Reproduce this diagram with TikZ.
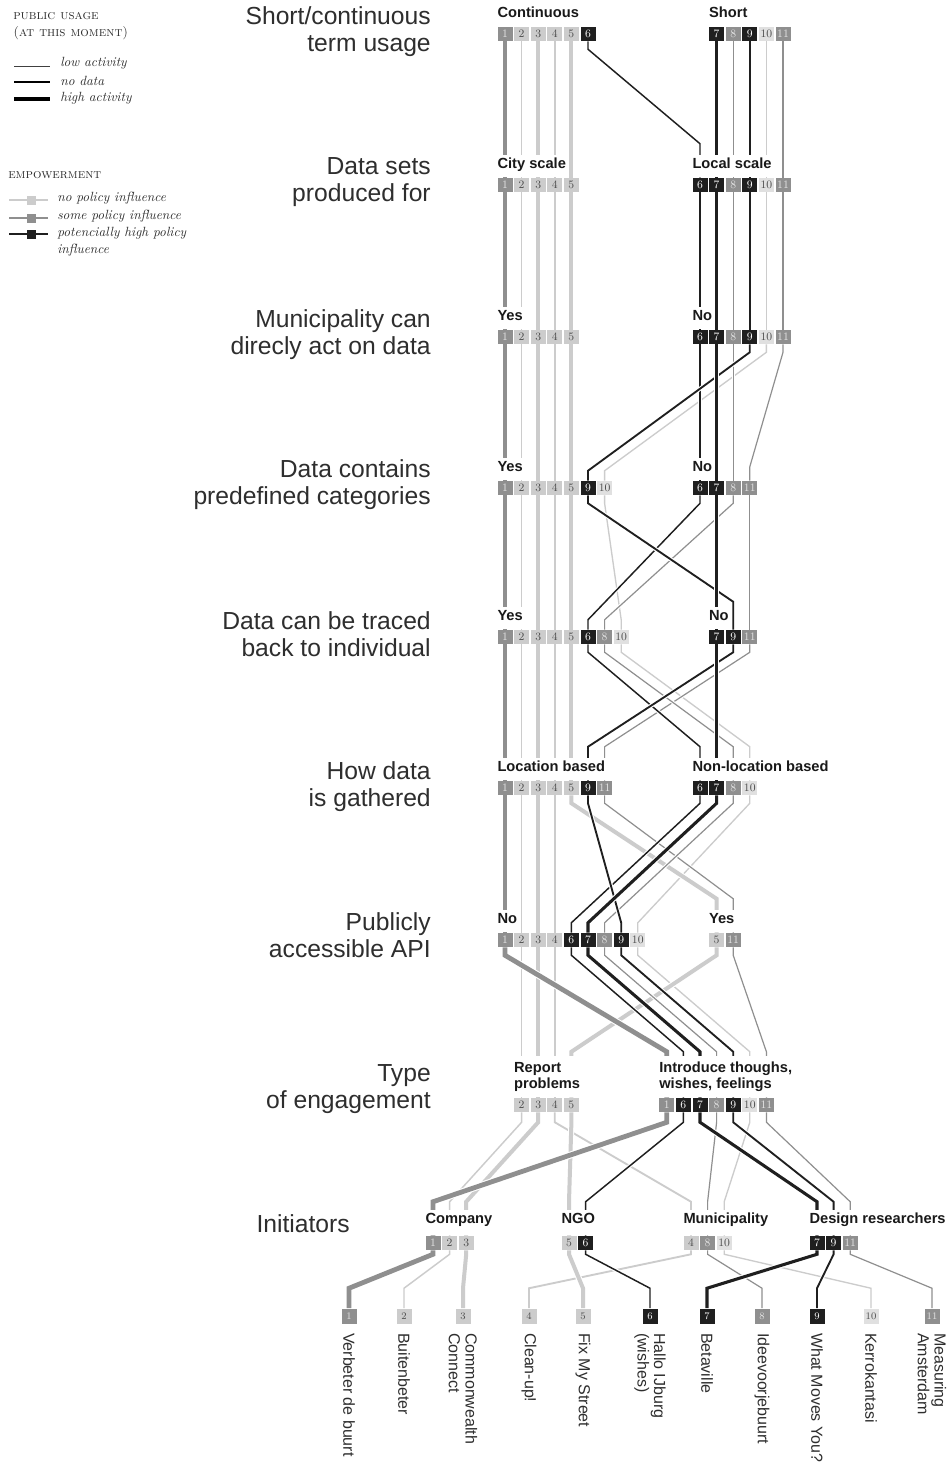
\documentclass[tikz,border=0pt]{standalone}
\usepackage{fontspec}
\usepackage{xcolor}
\usepackage{tikz}
\usetikzlibrary{calc}
\newfontfamily\sans{Liberation Sans}

\definecolor{emplow}{gray}{0.80}
\definecolor{emplight}{gray}{0.88}
\definecolor{empmid}{gray}{0.56}
\definecolor{emphigh}{gray}{0.12}
\definecolor{ink}{gray}{0.18}

\pgfdeclarelayer{paper}
\pgfdeclarelayer{wires}
\pgfsetlayers{paper,wires,main}

% one usage line per project, from a box in row #1 to the same project in row #2
\newcommand\links[4]{%
  \foreach \i/\s in {#4}
    \draw[u\i] (r#1-\i.south) -- ++(0,#3) -- ($(r#2-\i.north)+(0,-\s)$) -- (r#2-\i.north);
}

\begin{document}
\begin{tikzpicture}[
  x=0.75pt, y=-0.75pt,
  box/.style={minimum width=11.25pt, minimum height=10.5pt, inner sep=0pt, font=\fontsize{8.5}{9}\selectfont},
  nopol/.style={box, fill=emplow, text=black!70},
  somepol/.style={box, fill=empmid, text=white!90!black},
  highpol/.style={box, fill=emphigh, text=white},
  n1/.style={somepol}, n2/.style={nopol}, n3/.style={nopol}, n4/.style={nopol},
  n5/.style={nopol}, n6/.style={highpol}, n7/.style={highpol}, n8/.style={somepol},
  n9/.style={highpol}, n10/.style={nopol, fill=emplight}, n11/.style={somepol},
  wire/.style 2 args={draw=#1, line width=#2, preaction={draw=white, line width=#2+1.6pt}},
  u1/.style={wire={empmid}{3.6pt}},
  u2/.style={wire={emplow}{1.1pt}},
  u3/.style={wire={emplow}{3pt}},
  u4/.style={wire={emplow}{1.4pt}},
  u5/.style={wire={emplow}{3pt}},
  u6/.style={wire={emphigh}{1.1pt}},
  u7/.style={wire={emphigh}{2.3pt}},
  u8/.style={wire={empmid}{0.9pt}},
  u9/.style={wire={emphigh}{1.4pt}},
  u10/.style={wire={emplow}{1pt}},
  u11/.style={wire={empmid}{0.9pt}},
  ask/.style={anchor=north east, align=right, inner sep=0pt, text=ink, font=\sans\fontsize{18.5}{20.25}\selectfont},
  grp/.style={anchor=south west, fill=white, inner xsep=1pt, inner ysep=2.5pt, xshift=-1pt, text=black!90, font=\sans\bfseries\fontsize{11}{12}\selectfont},
  cat/.style={grp, text depth=4.25pt},
  cat2/.style={grp, align=left, inner ysep=4.5pt},
  who/.style={grp, text depth=6.5pt},
  leaf/.style={rotate=-90, anchor=west, align=left, inner sep=0pt, text=ink, font=\sans\fontsize{12}{12.5}\selectfont},
  legcap/.style={anchor=west, inner sep=0pt, text=ink, font=\fontsize{10}{11}\selectfont\scshape},
  legtxt/.style={anchor=west, inner sep=0pt, text=ink, font=\fontsize{10}{12.75}\selectfont\itshape}
]
\useasboundingbox (0,0) rectangle (951,1463);
\begin{pgfonlayer}{paper}
  \fill[white] (0,0) rectangle (951,1463);
\end{pgfonlayer}

% legend
\node[legcap] (usage) at (13,16) {public usage};
\node[legcap] (moment) at (13,33) {(at this moment)};
\node[legtxt] (low) at (60,63) {low activity};
\node[legtxt] (nodata) at (60,81) {no data};
\node[legtxt] (highact) at (60,98) {high activity};
\draw[black!75, line width=0.7pt] ($(low.west)+(-46,3)$) -- ++(36,0);
\draw[black, line width=1.5pt] ($(nodata.west)+(-46,1)$) -- ++(36,0);
\draw[black, line width=3.4pt] ($(highact.west)+(-46,1)$) -- ++(36,0);

\node[legcap] (power) at (8,175) {empowerment};
\node[legtxt] (e-none) at (57,198) {no policy influence};
\node[legtxt] (e-some) at (57,216) {some policy influence};
\node[legtxt, anchor=north west, align=left] (e-high) at (57,227) {potencially high policy\\influence};
\draw[emplow, line width=1.2pt] ($(e-none.west)+(-48,2)$) -- ++(39,0);
\node[fill=emplow, minimum size=6.75pt, inner sep=0pt] (k-none) at ($(e-none.west)+(-25.5,2)$) {};
\draw[empmid, line width=1.2pt] ($(e-some.west)+(-48,2)$) -- ++(39,0);
\node[fill=empmid, minimum size=6.75pt, inner sep=0pt] (k-some) at ($(e-some.west)+(-25.5,2)$) {};
\draw[emphigh, line width=1.2pt] ($(e-high.north west)+(-48,7)$) -- ++(39,0);
\node[fill=emphigh, minimum size=6.75pt, inner sep=0pt] (k-high) at ($(e-high.north west)+(-25.5,7)$) {};

% questions
\node[ask] (q1) at (431,6) {Short/continuous\\term usage};
\node[ask] (q2) at (431,157) {Data sets\\produced for};
\node[ask] (q3) at (431,309) {Municipality can\\direcly act on data};
\node[ask] (q4) at (431,459) {Data contains\\predefined categories};
\node[ask] (q5) at (431,611) {Data can be traced\\back to individual};
\node[ask] (q6) at (431,761) {How data\\is gathered};
\node[ask] (q7) at (431,912) {Publicly\\accessible API};
\node[ask] (q8) at (431,1064) {Type\\of engagement};
\node[ask] (q9) at (350,1214) {Initiators};

% project boxes, row by row
\foreach \r/\y/\x/\items in {
    1/34/505/{1,2,3,4,5,6}, 1/34/716.6/{7,8,9,10,11},
    2/185/505/{1,2,3,4,5}, 2/185/700/{6,7,8,9,10,11},
    3/337/505/{1,2,3,4,5}, 3/337/700/{6,7,8,9,10,11},
    4/488/505/{1,2,3,4,5,9,10}, 4/488/700/{6,7,8,11},
    5/637/505/{1,2,3,4,5,6,8,10}, 5/637/716.6/{7,9,11},
    6/788/505/{1,2,3,4,5,9,11}, 6/788/700/{6,7,8,10},
    7/940/505/{1,2,3,4,6,7,8,9,10}, 7/940/716.6/{5,11},
    8/1105/521.6/{2,3,4,5}, 8/1105/666.8/{1,6,7,8,9,10,11},
    9/1243/433/{1,2,3}, 9/1243/569/{5,6}, 9/1243/691/{4,8,10}, 9/1243/817/{7,9,11}}
  \foreach \i [count=\k from 0] in \items
    \node[n\i] (r\r-\i) at (\x+\k*16.6,\y) {\i};

\foreach \i/\x in {1/349,2/404,3/463,4/529,5/583,6/650,7/707,8/762,9/817,10/871,11/932}
  \node[n\i, minimum height=11.25pt, font=\fontsize{7.5}{8}\selectfont] (r10-\i) at (\x,1316) {\i};

% project names
\foreach \i/\t in {1/Verbeter de buurt, 2/Buitenbeter, 3/{Commonwealth\\Connect}, 4/Clean-up!,
    5/Fix My Street, 6/{Hallo IJburg\\(wishes)}, 7/Betaville, 8/Ideevoorjebuurt,
    9/What Moves You?, 10/Kerrokantasi, 11/{Measuring\\Amsterdam}}
  \node[leaf] (t\i) at ($(r10-\i.south)+(0,9)$) {\t};

% group labels
\node[cat] (g1a) at (r1-1.north west) {Continuous};
\node[cat] (g1b) at (r1-7.north west) {Short};
\node[cat] (g2a) at (r2-1.north west) {City scale};
\node[cat] (g2b) at (r2-6.north west) {Local scale};
\node[cat] (g3a) at (r3-1.north west) {Yes};
\node[cat] (g3b) at (r3-6.north west) {No};
\node[cat] (g4a) at (r4-1.north west) {Yes};
\node[cat] (g4b) at (r4-6.north west) {No};
\node[cat] (g5a) at (r5-1.north west) {Yes};
\node[cat] (g5b) at (r5-7.north west) {No};
\node[cat] (g6a) at (r6-1.north west) {Location based};
\node[cat] (g6b) at (r6-6.north west) {Non-location based};
\node[cat] (g7a) at (r7-1.north west) {No};
\node[cat] (g7b) at (r7-5.north west) {Yes};
\node[cat2] (g8a) at (r8-2.north west) {Report\\problems};
\node[cat2] (g8b) at (r8-1.north west) {Introduce thoughs,\\wishes, feelings};
\node[who] (g9a) at (r9-1.north west) {Company};
\node[who] (g9b) at (r9-5.north west) {NGO};
\node[who] (g9c) at (r9-4.north west) {Municipality};
\node[who] (g9d) at (r9-7.north west) {Design researchers};

% usage lines, light ones first
\begin{pgfonlayer}{wires}
\links{1}{2}{8}{10/34,2/34,4/34,3/34,5/34,11/34,8/34,1/34,6/34,9/34,7/34}
\links{2}{3}{8}{10/34,2/34,4/34,3/34,5/34,11/34,8/34,1/34,6/34,9/34,7/34}
\links{3}{4}{8}{10/10,2/34,4/34,3/34,5/34,11/14,8/34,1/34,6/34,9/10,7/34}
\links{4}{5}{8}{10/10,2/34,4/34,3/34,5/34,11/34,8/10,1/34,6/10,9/28,7/34}
\links{5}{6}{8}{10/34,2/34,4/34,3/34,5/34,11/34,8/34,1/34,6/34,9/34,7/34}
\links{6}{7}{8}{10/10,2/34,4/34,3/34,5/34,11/34,8/10,1/34,6/10,9/10,7/10}
\links{7}{8}{8}{10/46,2/46,4/46,3/46,5/46,11/46,8/46,1/46,6/46,9/46,7/46}
\links{8}{9}{10}{10/34,2/34,4/34,3/34,5/34,11/34,8/34,1/34,6/34,9/34,7/34}
\links{9}{10}{4}{10/20,2/20,4/20,3/20,5/20,11/20,8/20,1/20,6/20,9/20,7/20}
\end{pgfonlayer}
\end{tikzpicture}
\end{document}
